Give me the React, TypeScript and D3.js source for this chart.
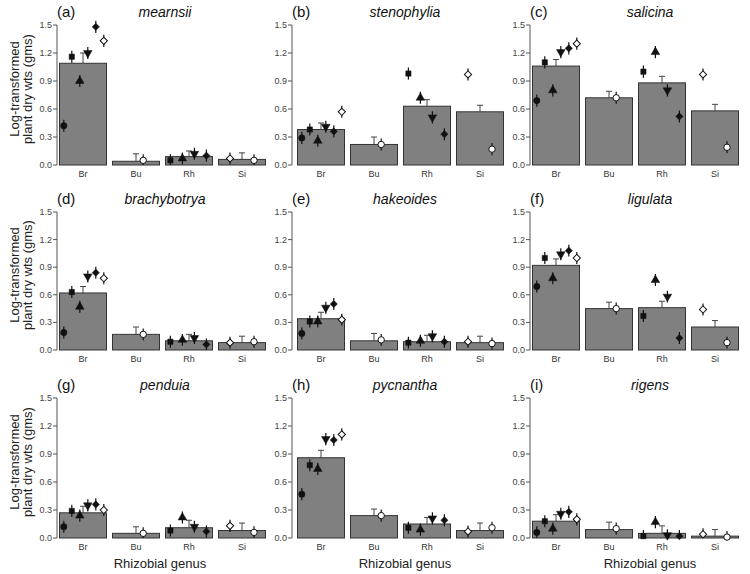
import React from "react";
import * as d3 from "d3";

const genera = ["Br", "Bu", "Rh", "Si"];
const species = ["mearnsii", "stenophylia", "salicina", "brachybotrya", "hakeoides", "ligulata", "penduia", "pycnantha", "rigens"];
const letters = ["(a)", "(b)", "(c)", "(d)", "(e)", "(f)", "(g)", "(h)", "(i)"];
const yTicks = [0, 0.3, 0.6, 0.9, 1.2, 1.5];

// mean bar heights per panel, genus order Br Bu Rh Si
const barMeans = [
  [1.09, 0.04, 0.09, 0.06],
  [0.38, 0.22, 0.63, 0.57],
  [1.06, 0.72, 0.88, 0.58],
  [0.62, 0.17, 0.10, 0.08],
  [0.34, 0.10, 0.09, 0.08],
  [0.92, 0.45, 0.46, 0.25],
  [0.27, 0.05, 0.11, 0.08],
  [0.86, 0.24, 0.15, 0.08],
  [0.18, 0.09, 0.05, 0.02],
];
const barSE = [
  [0.11, 0.08, 0.06, 0.07],
  [0.07, 0.08, 0.07, 0.07],
  [0.07, 0.07, 0.07, 0.07],
  [0.07, 0.08, 0.07, 0.07],
  [0.07, 0.08, 0.07, 0.07],
  [0.07, 0.07, 0.07, 0.07],
  [0.07, 0.07, 0.08, 0.08],
  [0.08, 0.07, 0.07, 0.08],
  [0.07, 0.08, 0.08, 0.07],
];

// strain symbols per genus
const strainSymbols: Record<string, string[]> = {
  Br: ["circle", "square", "triUp", "triDown", "diamond", "openDiamond"],
  Bu: ["openCircle"],
  Rh: ["square", "triUp", "triDown", "diamond"],
  Si: ["openDiamond", "openCircle"],
};

// strain means per panel: [Br(6), Bu(1), Rh(4), Si(2)]
const strainBr = [
  [0.42, 1.16, 0.90, 1.20, 1.48, 1.33],
  [0.29, 0.38, 0.26, 0.41, 0.36, 0.57],
  [0.69, 1.10, 0.80, 1.21, 1.25, 1.30],
  [0.19, 0.63, 0.47, 0.80, 0.84, 0.78],
  [0.18, 0.31, 0.31, 0.46, 0.50, 0.33],
  [0.69, 1.00, 0.78, 1.04, 1.08, 1.00],
  [0.12, 0.29, 0.24, 0.35, 0.36, 0.30],
  [0.47, 0.78, 0.74, 1.06, 1.05, 1.11],
  [0.06, 0.18, 0.10, 0.26, 0.28, 0.20],
];
const strainBu = [[0.05], [0.22], [0.72], [0.17], [0.11], [0.45], [0.05], [0.24], [0.10]];
const strainRh = [
  [0.05, 0.07, 0.12, 0.10],
  [0.98, 0.72, 0.51, 0.33],
  [1.00, 1.21, 0.80, 0.52],
  [0.09, 0.11, 0.13, 0.06],
  [0.08, 0.10, 0.15, 0.09],
  [0.37, 0.76, 0.58, 0.13],
  [0.08, 0.22, 0.12, 0.07],
  [0.11, 0.09, 0.21, 0.19],
  [0.02, 0.17, 0.03, 0.02],
];
const strainSi = [
  [0.07, 0.05],
  [0.97, 0.17],
  [0.97, 0.19],
  [0.08, 0.09],
  [0.09, 0.07],
  [0.44, 0.08],
  [0.13, 0.06],
  [0.07, 0.11],
  [0.04, 0.01],
];
const strainErr = 0.065;

const FONT = "'Liberation Sans', Arial, Helvetica, sans-serif";
const axisX = [57, 292, 530];
const barStart = [59, 297, 532];
const rowTop = [25, 212, 398];
const rowBottom = [165, 350, 538];
const titleX = [165, 405, 650];
const strainAlign: Record<string, number> = { Br: 0.6, Bu: 0.65, Rh: 0.45, Si: 0.5 };

function symbolPath(kind: string) {
  const base = kind.replace("open", "").toLowerCase();
  const type =
    base === "square" || base === "diamond" ? d3.symbolSquare :
    base === "triup" || base === "tridown" ? d3.symbolTriangle : d3.symbolCircle;
  const size = base === "square" ? 28 : base === "diamond" ? 26 : 32;
  return d3.symbol().type(type).size(size)() as string;
}

function Panel({ idx }: { idx: number }) {
  const col = idx % 3;
  const row = Math.floor(idx / 3);
  const y = d3.scaleLinear().domain([0, 1.5]).range([rowBottom[row], rowTop[row]]);
  const x = d3.scaleBand().domain(genera).range([barStart[col], barStart[col] + 207]).paddingInner(5 / 53).paddingOuter(0);
  const strains = [strainBr[idx], strainBu[idx], strainRh[idx], strainSi[idx]];
  const y0 = y(0);

  return (
    <g>
      {/* bars */}
      {genera.map((g, gi) => {
        const bx = x(g)!;
        const bw = x.bandwidth();
        const m = barMeans[idx][gi];
        const top = y(m);
        const cap = y(m + barSE[idx][gi]);
        const cx = bx + bw / 2;
        return (
          <g key={g}>
            <line x1={cx} x2={cx} y1={top} y2={cap} stroke="#444" strokeWidth={1} />
            <line x1={cx - 3} x2={cx + 3} y1={cap} y2={cap} stroke="#444" strokeWidth={1} />
            <rect x={bx + 0.5} y={top} width={bw - 1} height={y0 - top} fill="#808080" stroke="#333" strokeWidth={1} />
            <text x={cx} y={y0 + 12} textAnchor="middle" fontSize={9} fill="#333" fontFamily={FONT}>{g}</text>
          </g>
        );
      })}
      {/* strain markers */}
      {genera.map((g, gi) => {
        const syms = strainSymbols[g];
        const px = d3.scalePoint<number>().domain(d3.range(syms.length)).range([0, x.bandwidth()]).padding(0.5).align(strainAlign[g]);
        return syms.map((s, si) => {
          const v = strains[gi][si];
          const cx = x(g)! + px(si)!;
          const cy = y(v);
          const open = s.startsWith("open");
          const rot = s === "triDown" ? 180 : s.toLowerCase().includes("diamond") ? 45 : 0;
          return (
            <g key={g + si}>
              <line x1={cx} x2={cx} y1={y(v + strainErr)} y2={y(Math.max(0, v - strainErr))} stroke="#111" strokeWidth={1.2} />
              <path d={symbolPath(s)} transform={`translate(${cx},${cy}) rotate(${rot})`} fill={open ? "#fff" : "#111"} stroke="#111" strokeWidth={open ? 1 : 0.5} />
            </g>
          );
        });
      })}
      {/* y axis */}
      <line x1={axisX[col]} x2={axisX[col]} y1={y(0)} y2={y(1.5)} stroke="#555" strokeWidth={1} />
      {yTicks.map((t) => (
        <g key={t}>
          <line x1={axisX[col] - 4} x2={axisX[col]} y1={y(t)} y2={y(t)} stroke="#555" strokeWidth={1} />
          <text x={axisX[col] - 5} y={y(t)} dy="0.33em" textAnchor="end" fontSize={9} fill="#444" fontFamily={FONT}>{d3.format(".1f")(t)}</text>
        </g>
      ))}
      <text x={axisX[col]} y={rowTop[row] - 8} fontSize={15} fill="#111" fontFamily={FONT}>{letters[idx]}</text>
      <text x={titleX[col]} y={rowTop[row] - 8} textAnchor="middle" fontSize={14} fontStyle="italic" fill="#111" fontFamily={FONT}>{species[idx]}</text>
      {col === 0 && (
        <text transform={`translate(0,${(rowTop[row] + rowBottom[row]) / 2 - 6}) rotate(-90)`} textAnchor="middle" fontSize={13} fill="#222" fontFamily={FONT}>
          <tspan x={0} y={19}>Log-transformed</tspan>
          <tspan x={0} y={32}>plant dry wts (gms)</tspan>
        </text>
      )}
      {row === 2 && (
        <text x={titleX[col] - (col === 0 ? 5 : 0)} y={568} textAnchor="middle" fontSize={13} fill="#222" fontFamily={FONT}>Rhizobial genus</text>
      )}
    </g>
  );
}

export default function App() {
  return (
    <svg width={750} height={574} style={{ position: "absolute", left: 0, top: 0, background: "#fff" }}>
      {species.map((_, i) => (
        <Panel key={i} idx={i} />
      ))}
    </svg>
  );
}
